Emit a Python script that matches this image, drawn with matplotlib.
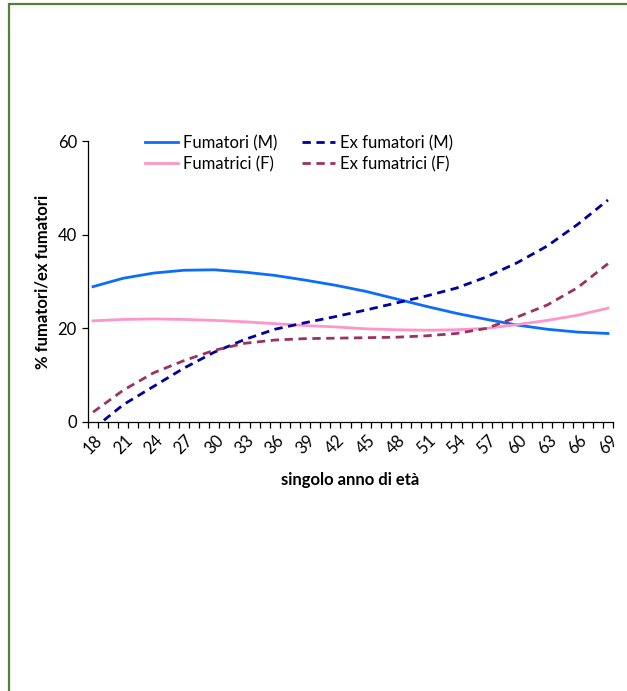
import numpy as np
import matplotlib
matplotlib.use("Agg")
import matplotlib.pyplot as plt
from matplotlib.patches import Rectangle
from matplotlib.ticker import FixedLocator

# ages shown on the category axis (values read every 3 years)
ages = [18, 21, 24, 27, 30, 33, 36, 39, 42, 45, 48, 51, 54, 57, 60, 63, 66, 69]
all_ages = list(range(18, 70))

fumatori_m = [28.9, 30.7, 31.8, 32.4, 32.5, 32.0, 31.3, 30.3, 29.2, 27.9,
              26.3, 24.7, 23.2, 21.9, 20.7, 19.8, 19.2, 18.9]
fumatrici_f = [21.6, 21.9, 22.0, 21.9, 21.7, 21.4, 21.0, 20.6, 20.3, 19.9,
               19.7, 19.6, 19.7, 20.0, 20.8, 21.7, 22.8, 24.3]
ex_fumatori_m = [-1.5, 3.7, 7.6, 11.5, 14.9, 17.6, 19.8, 21.2, 22.5, 23.9,
                 25.4, 26.9, 28.6, 31.0, 34.0, 37.6, 42.2, 47.4]
ex_fumatrici_f = [2.1, 6.8, 10.5, 13.1, 15.3, 16.8, 17.5, 17.8, 17.9, 18.0,
                  18.1, 18.4, 18.9, 20.0, 22.4, 25.0, 28.7, 33.8]

plt.rcParams['font.family'] = ['Lato', 'DejaVu Sans']

fig = plt.figure(figsize=(6.27, 6.91), dpi=100)
ax = fig.add_axes([88 / 627, 1 - 422 / 691, 525 / 627, 281 / 691])

# category positions: index of each age on the axis
pos = [all_ages.index(a) for a in ages]

ax.plot(pos, fumatori_m, color='#0A6EFA', lw=2.0, label='Fumatori (M)')
ax.plot(pos, fumatrici_f, color='#FF96C8', lw=2.0, label='Fumatrici (F)')
ax.plot(pos, ex_fumatori_m, color='#0000A0', lw=2.0, dashes=(3.0, 2.0), label='Ex fumatori (M)')
ax.plot(pos, ex_fumatrici_f, color='#993366', lw=2.0, dashes=(3.0, 2.0), label='Ex fumatrici (F)')

ax.set_xlim(-0.5, len(all_ages) - 0.5)
ax.set_ylim(0, 60)
ax.set_yticks([0, 20, 40, 60])

ax.xaxis.set_major_locator(FixedLocator(pos))
ax.set_xticklabels([str(a) for a in ages], rotation=45, ha='center')
ax.xaxis.set_minor_locator(FixedLocator(np.arange(-0.5, len(all_ages), 1)))
ax.tick_params(axis='x', which='major', length=0, pad=7, labelsize=12)
ax.tick_params(axis='x', which='minor', length=4, width=0.9, direction='out')
ax.tick_params(axis='y', length=4, width=0.9, labelsize=12, pad=4)

for side in ['top', 'right']:
    ax.spines[side].set_visible(False)
for side in ['left', 'bottom']:
    ax.spines[side].set_linewidth(0.9)

ax.set_xlabel('singolo anno di età', fontweight='bold', fontsize=12, labelpad=11)
ax.set_ylabel('% fumatori/ex fumatori', fontweight='bold', fontsize=12, labelpad=5)

ax.legend(ncol=2, frameon=False, fontsize=12, handlelength=2.0, handletextpad=0.3,
          columnspacing=1.45, labelspacing=0.3, borderpad=0, borderaxespad=0,
          loc='upper left', bbox_to_anchor=(145 / 627, 1 - 135 / 691),
          bbox_transform=fig.transFigure)

# green frame of the panel (only top and left edges fall inside the image)
fig.patches.append(Rectangle((8.5 / 627, -0.2), 1.2, 1.2 - 4.2 / 691,
                             transform=fig.transFigure, fill=False,
                             edgecolor='#548235', lw=1.6))

fig.savefig('out.png', dpi=100)
